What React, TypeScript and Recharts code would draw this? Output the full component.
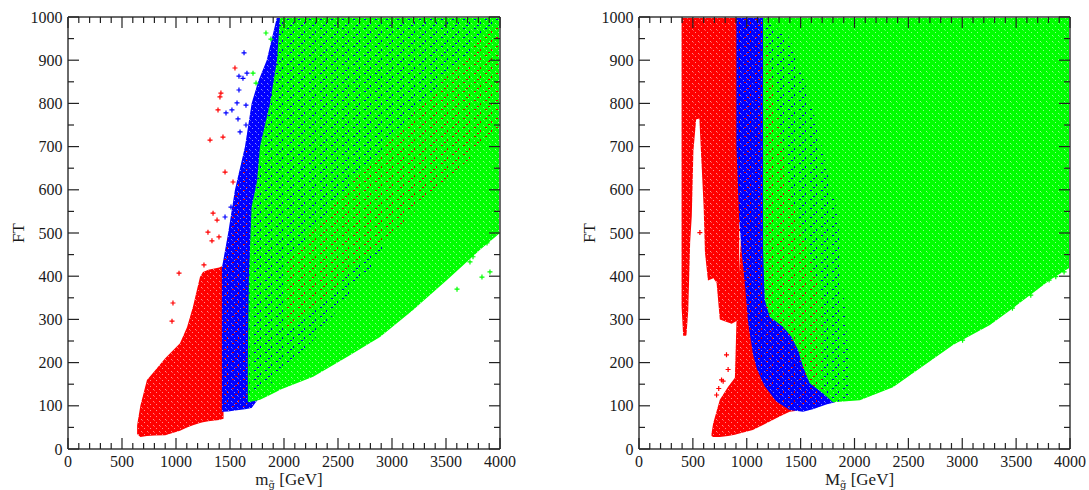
import { ComposedChart, Area, Scatter, XAxis, YAxis, ReferenceLine, Label } from "recharts";

type Band = [number, number, number][];
type Pts = [number, number][];

const majorX = [0, 500, 1000, 1500, 2000, 2500, 3000, 3500, 4000];
const minorX = [
  0, 100, 200, 300, 400, 500, 600, 700, 800, 900, 1000, 1100, 1200, 1300, 1400, 1500, 1600, 1700, 1800, 1900, 2000,
  2100, 2200, 2300, 2400, 2500, 2600, 2700, 2800, 2900, 3000, 3100, 3200, 3300, 3400, 3500, 3600, 3700, 3800, 3900,
  4000,
];
const minorY = [
  0, 50, 100, 150, 200, 250, 300, 350, 400, 450, 500, 550, 600, 650, 700, 750, 800, 850, 900, 950, 1000,
];

// left panel: [x, low FT, high FT]
const leftRed: Band = [
  [640, 35, 55], [670, 28, 100], [731, 30, 160], [800, 31, 180], [900, 32, 210], [1037, 42, 245],
  [1102, 50, 282], [1157, 55, 329], [1222, 60, 398], [1250, 62, 410], [1300, 64, 415], [1400, 67, 420],
  [1440, 70, 425],
];
const leftBlue: Band = [
  [1425, 86, 420], [1440, 86, 440], [1483, 87, 500], [1546, 89, 600], [1639, 92, 700], [1700, 95, 800],
  [1760, 115, 850], [1840, 140, 900], [1935, 160, 1000], [2000, 180, 1000],
];
const leftGreen: Band = [
  [1665, 110, 200], [1675, 108, 400], [1700, 110, 560], [1750, 112, 620], [1778, 114, 700], [1870, 125, 800],
  [1935, 133, 900], [1963, 137, 1000], [2270, 167, 1000], [2583, 213, 1000], [2889, 259, 1000],
  [3195, 322, 1000], [3509, 391, 1000], [3815, 461, 1000], [4000, 500, 1000],
];
const leftBlueInGreen: Band = [
  [1680, 115, 450], [1750, 130, 620], [1870, 150, 800], [1963, 170, 1000], [2300, 260, 1000],
  [2800, 420, 1000], [3400, 650, 1000], [4000, 850, 1000],
];
const leftRedInGreen: Band = [
  [2000, 270, 420], [2500, 380, 580], [3000, 500, 720], [3500, 620, 860], [4000, 740, 1000],
];
const leftRedInBlue: Band = [[1445, 92, 440], [1560, 92, 600], [1660, 100, 700]];

const leftRedPts: Pts = [
  [1028, 407], [972, 338], [963, 296], [1315, 715], [1435, 722], [1389, 785], [1407, 815], [1416, 824],
  [1546, 882], [1454, 641], [1528, 618], [1343, 546], [1380, 530], [1296, 502], [1333, 482], [1398, 491],
  [1259, 426],
];
const leftBluePts: Pts = [
  [1630, 917], [1657, 870], [1583, 863], [1620, 858], [1565, 801], [1583, 831], [1518, 785], [1463, 778],
  [1648, 796], [1574, 764], [1593, 734], [1648, 750], [1509, 560], [1454, 537],
];
const leftGreenPts: Pts = [
  [1833, 963], [1879, 949], [1713, 870], [1741, 847], [3880, 477], [3907, 410], [3833, 398], [3602, 370],
  [3722, 433], [3750, 445],
];

// right panel
const rightRedSpike: Band = [
  [395, 330, 1000], [410, 262, 1000], [440, 262, 1000], [457, 320, 1000], [475, 480, 1000], [490, 540, 1000],
  [505, 690, 1000], [530, 762, 1000],
];
const rightRedStrip: Band = [
  [520, 762, 1000], [560, 765, 1000], [600, 560, 1000], [612, 455, 1000], [640, 390, 1000], [690, 395, 1000],
  [720, 385, 1000], [750, 300, 1000], [860, 290, 1000], [930, 300, 1000],
];
const rightRedLow: Band = [
  [673, 30, 36], [688, 28, 59], [750, 28, 114], [827, 30, 144], [890, 33, 165], [905, 34, 300],
  [1056, 44, 1000], [1305, 75, 1000], [1398, 86, 1000], [1450, 88, 1000],
];
const rightBlue: Band = [
  [904, 700, 1000], [930, 530, 1000], [951, 461, 1000], [981, 387, 1000], [1012, 294, 1000], [1059, 218, 1000],
  [1096, 184, 1000], [1167, 145, 1000], [1275, 110, 1000], [1398, 90, 1000], [1522, 86, 1000], [1614, 92, 1000],
  [1738, 103, 1000], [1820, 108, 1000],
];
const rightGreen: Band = [
  [1151, 460, 1000], [1167, 345, 1000], [1213, 306, 1000], [1336, 283, 1000], [1414, 260, 1000],
  [1475, 230, 1000], [1522, 191, 1000], [1584, 152, 1000], [1707, 129, 1000], [1800, 108, 1000],
  [2050, 113, 1000], [2357, 143, 1000], [2914, 241, 1000], [3257, 287, 1000], [3470, 326, 1000],
  [3814, 391, 1000], [4000, 420, 1000],
];
const rightBlueInGreen: Band = [
  [1151, 460, 1000], [1400, 265, 950], [1600, 150, 800], [1840, 110, 550], [1950, 115, 200],
];
const rightRedInBlue: Band = [
  [920, 520, 1000], [1000, 310, 1000], [1150, 155, 1000], [1400, 95, 600], [1700, 105, 350],
];

const rightRedPts: Pts = [[812, 218], [766, 160], [720, 125], [565, 501], [827, 184], [781, 157], [740, 140]];
const rightGreenPts: Pts = [
  [3466, 326], [3636, 356], [3713, 380], [3806, 391], [3868, 399], [3945, 410], [3003, 252], [3188, 284],
];

const RED = "#ff0000";
const BLUE = "#0000ff";
const GREEN = "#00ff00";
const FRAME = "#6a6a6a";
const TICK = "#222";
const FONT = "Liberation Serif, Times New Roman, serif";

type Layer = { key: string; band: Band; fill: string };

function buildRows(layers: Layer[]) {
  const map = new Map<number, any>();
  for (const l of layers) {
    for (const [x, lo, hi] of l.band) {
      const row = map.get(x) ?? { x };
      row[l.key] = [lo, hi];
      map.set(x, row);
    }
  }
  return [...map.values()].sort((a, b) => a.x - b.x);
}

const plus = (color: string) => (props: any) => {
  const { cx, cy } = props;
  return (
    <path
      d={`M${cx - 2.5},${cy}H${cx + 2.5}M${cx},${cy - 2.5}V${cy + 2.5}`}
      stroke={color}
      strokeWidth={1.2}
    />
  );
};

function Patterns({ p }: { p: string }) {
  const solid = (id: string, c: string) => (
    <pattern id={`${p}-${id}`} width="6" height="6" patternUnits="userSpaceOnUse">
      <rect width="6" height="6" fill={c} />
      <rect x="0" y="2" width="1" height="1" fill="#fff" fillOpacity="0.55" />
      <rect x="3" y="5" width="1" height="1" fill="#fff" fillOpacity="0.55" />
      <rect x="4" y="0" width="1" height="1" fill="#fff" fillOpacity="0.3" />
    </pattern>
  );
  const sparse = (id: string, c: string) => (
    <pattern id={`${p}-${id}`} width="11" height="9" patternUnits="userSpaceOnUse">
      <rect x="1" y="1" width="2" height="1" fill={c} />
      <rect x="7" y="4" width="1" height="2" fill={c} />
      <rect x="4" y="7" width="2" height="1" fill={c} />
    </pattern>
  );
  return (
    <defs>
      {solid("r", RED)}
      {solid("b", BLUE)}
      {solid("g", GREEN)}
      {sparse("rs", "#e00000")}
      {sparse("bs", "#0000e0")}
    </defs>
  );
}

type PanelProps = {
  id: string;
  left: number;
  width: number;
  marginLeft: number;
  marginRight: number;
  mass: string;
  layers: Layer[];
  points: { pts: Pts; color: string }[];
};

function Panel({ id, left, width, marginLeft, marginRight, mass, layers, points }: PanelProps) {
  const height = 490;
  const top = 17;
  const axisH = 41;
  const yAxisW = 60;
  const plotW = width - marginLeft - marginRight - yAxisW;
  const plotH = height - top - axisH;
  const rows = buildRows(layers);

  const xTick = (props: any) => {
    const { x, y, payload } = props;
    const v = payload.value as number;
    const major = majorX.includes(v);
    const len = major ? 11 : 6;
    return (
      <g>
        <line x1={x} y1={y} x2={x} y2={y - len} stroke={TICK} strokeWidth={1.2} />
        <line x1={x} y1={y - plotH} x2={x} y2={y - plotH + len} stroke={TICK} strokeWidth={1.2} />
        {major && (
          <text x={x} y={y + 18} textAnchor="middle" fontSize={16} fontFamily={FONT} fill="#1a1a1a">
            {v}
          </text>
        )}
      </g>
    );
  };

  const yTick = (props: any) => {
    const { x, y, payload } = props;
    const v = payload.value as number;
    const major = v % 100 === 0;
    const len = major ? 11 : 6;
    return (
      <g>
        <line x1={x} y1={y} x2={x + len} y2={y} stroke={TICK} strokeWidth={1.2} />
        <line x1={x + plotW} y1={y} x2={x + plotW - len} y2={y} stroke={TICK} strokeWidth={1.2} />
        {major && (
          <text x={x - 5.5} y={y} dy="0.35em" textAnchor="end" fontSize={16} fontFamily={FONT} fill="#1a1a1a">
            {v}
          </text>
        )}
      </g>
    );
  };

  return (
    <div style={{ position: "absolute", left, top: 0 }}>
      <ComposedChart
        width={width}
        height={height}
        data={rows}
        margin={{ top, right: marginRight, bottom: 0, left: marginLeft }}
      >
        <Patterns p={id} />
        <XAxis
          dataKey="x"
          type="number"
          domain={[0, 4000]}
          allowDataOverflow
          ticks={minorX}
          interval={0}
          height={axisH}
          tickSize={0}
          tickMargin={0}
          tickLine={false}
          axisLine={{ stroke: FRAME, strokeWidth: 2 }}
          tick={xTick}
        >
          <Label
            content={(lp: any) => {
              const vb = lp.viewBox;
              return (
                <text
                  x={vb.x + vb.width / 2 + 5}
                  y={vb.y + 36}
                  textAnchor="middle"
                  fontSize={17}
                  fontFamily={FONT}
                  fill="#1a1a1a"
                >
                  <tspan>{mass}</tspan>
                  <tspan dy={3} fontSize={10} fontFamily="DejaVu Serif">
                    {"g\u0303"}
                  </tspan>
                  <tspan dy={-3}> [GeV]</tspan>
                </text>
              );
            }}
          />
        </XAxis>
        <YAxis
          type="number"
          domain={[0, 1000]}
          allowDataOverflow
          ticks={minorY}
          interval={0}
          width={yAxisW}
          tickSize={0}
          tickMargin={0}
          tickLine={false}
          axisLine={{ stroke: FRAME, strokeWidth: 2 }}
          tick={yTick}
        >
          <Label
            content={(lp: any) => {
              const vb = lp.viewBox;
              const cx = vb.x + 10;
              const cy = vb.y + vb.height / 2;
              return (
                <text
                  x={cx}
                  y={cy}
                  transform={`rotate(-90 ${cx} ${cy})`}
                  textAnchor="middle"
                  dominantBaseline="central"
                  fontSize={17}
                  fontFamily={FONT}
                  fill="#1a1a1a"
                >
                  FT
                </text>
              );
            }}
          />
        </YAxis>
        {layers.map((l) => (
          <Area
            key={l.key}
            dataKey={l.key}
            type="linear"
            stroke="none"
            fill={l.fill}
            fillOpacity={1}
            connectNulls
            isAnimationActive={false}
            dot={false}
            activeDot={false}
          />
        ))}
        {points.map((p, i) => (
          <Scatter
            key={i}
            data={p.pts.map(([x, y]) => ({ x, y }))}
            dataKey="y"
            shape={plus(p.color)}
            isAnimationActive={false}
          />
        ))}
        <ReferenceLine y={1000} stroke={FRAME} strokeWidth={2} />
        <ReferenceLine x={4000} stroke={FRAME} strokeWidth={2} />
      </ComposedChart>
    </div>
  );
}

export default function App() {
  const leftLayers: Layer[] = [
    { key: "red", band: leftRed, fill: "url(#L-r)" },
    { key: "blue", band: leftBlue, fill: "url(#L-b)" },
    { key: "green", band: leftGreen, fill: "url(#L-g)" },
    { key: "blueSpeck", band: leftBlueInGreen, fill: "url(#L-bs)" },
    { key: "redSpeck", band: leftRedInGreen, fill: "url(#L-rs)" },
    { key: "redInBlue", band: leftRedInBlue, fill: "url(#L-rs)" },
  ];
  const rightLayers: Layer[] = [
    { key: "redSpike", band: rightRedSpike, fill: "url(#R-r)" },
    { key: "redStrip", band: rightRedStrip, fill: "url(#R-r)" },
    { key: "redLow", band: rightRedLow, fill: "url(#R-r)" },
    { key: "blue", band: rightBlue, fill: "url(#R-b)" },
    { key: "green", band: rightGreen, fill: "url(#R-g)" },
    { key: "blueSpeck", band: rightBlueInGreen, fill: "url(#R-bs)" },
    { key: "redInBlue", band: rightRedInBlue, fill: "url(#R-rs)" },
  ];
  return (
    <div style={{ position: "absolute", left: 0, top: 0, width: 1089, height: 490, background: "#fff" }}>
      <Panel
        id="L"
        left={0}
        width={545}
        marginLeft={8}
        marginRight={45}
        mass="m"
        layers={leftLayers}
        points={[
          { pts: leftRedPts, color: RED },
          { pts: leftBluePts, color: BLUE },
          { pts: leftGreenPts, color: GREEN },
        ]}
      />
      <Panel
        id="R"
        left={545}
        width={544}
        marginLeft={34}
        marginRight={19}
        mass="M"
        layers={rightLayers}
        points={[
          { pts: rightRedPts, color: RED },
          { pts: rightGreenPts, color: GREEN },
        ]}
      />
    </div>
  );
}
